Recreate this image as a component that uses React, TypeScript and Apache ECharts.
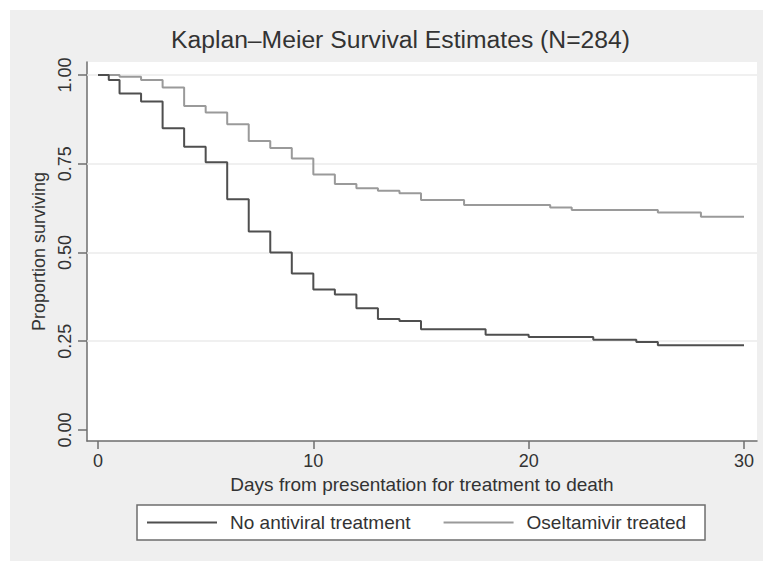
import React, { useEffect, useRef } from "react";
import * as echarts from "echarts";

const titleText = "Kaplan–Meier Survival Estimates (N=284)";
const xAxisTitle = "Days from presentation for treatment to death";
const yAxisTitle = "Proportion surviving";
const seriesNames = ["No antiviral treatment", "Oseltamivir treated"];

const xTicks = [0, 10, 20, 30];
const yTicks = [0, 0.25, 0.5, 0.75, 1];
const yGridValues = [0.25, 0.5, 0.75, 1];

const noAntiviralDays = [0, 0.5, 1, 2, 3, 4, 5, 6, 7, 8, 9, 10, 11, 12, 13, 14, 15, 18, 20, 23, 25, 26, 30];
const noAntiviralSurvival = [1, 0.986, 0.948, 0.925, 0.85, 0.798, 0.754, 0.65, 0.559, 0.5, 0.441, 0.396, 0.382, 0.343, 0.313, 0.307, 0.284, 0.268, 0.262, 0.254, 0.248, 0.239, 0.239];

const oseltamivirDays = [0, 1, 2, 3, 4, 5, 6, 7, 8, 9, 10, 11, 12, 13, 14, 15, 17, 21, 22, 26, 28, 30];
const oseltamivirSurvival = [1, 0.995, 0.986, 0.965, 0.913, 0.894, 0.861, 0.814, 0.794, 0.765, 0.72, 0.693, 0.681, 0.674, 0.667, 0.648, 0.634, 0.627, 0.62, 0.613, 0.601, 0.601];

const FONT = "'Liberation Sans', Arial, sans-serif";
const TEXT = "#333333";
const AXIS = "#6e6e6e";

export default function App() {
  const ref = useRef<HTMLDivElement>(null);
  useEffect(() => {
    if (!ref.current) return;
    const chart = echarts.init(ref.current, undefined, { renderer: "svg" });
    const darkData = noAntiviralDays.map((d, i) => [d, noAntiviralSurvival[i]]);
    const lightData = oseltamivirDays.map((d, i) => [d, oseltamivirSurvival[i]]);
    chart.setOption({
      animation: false,
      backgroundColor: "#ffffff",
      textStyle: { fontFamily: FONT },
      graphic: [
        {
          type: "rect",
          z: -10,
          silent: true,
          shape: { x: 10, y: 10, width: 753, height: 551 },
          style: { fill: "#efefef" },
        },
      ],
      title: {
        text: titleText,
        left: 171,
        top: 27,
        padding: 0,
        textStyle: { fontFamily: FONT, fontSize: 24.7, fontWeight: "normal", color: TEXT },
      },
      grid: {
        left: 87,
        right: 6,
        top: 62,
        bottom: 120,
        show: true,
        backgroundColor: "#ffffff",
        borderWidth: 0,
        containLabel: false,
      },
      legend: {
        left: 137,
        top: 505,
        orient: "horizontal",
        itemWidth: 70,
        itemHeight: 14,
        itemGap: 32,
        padding: [8, 19, 8, 9],
        backgroundColor: "#ffffff",
        borderColor: AXIS,
        borderWidth: 1.5,
        borderRadius: 0,
        itemStyle: { opacity: 0 },
        textStyle: { fontFamily: FONT, fontSize: 19, color: TEXT, padding: [0, 0, 0, 8] },
        data: seriesNames,
      },
      xAxis: {
        type: "value",
        min: -0.511,
        max: 30.604,
        name: xAxisTitle,
        nameLocation: "middle",
        nameGap: 30,
        nameTextStyle: { fontFamily: FONT, fontSize: 19, color: TEXT },
        axisLine: { show: true, onZero: false, lineStyle: { color: AXIS, width: 1.5 } },
        axisTick: { show: true, length: 8, lineStyle: { color: AXIS, width: 1.5 }, customValues: xTicks },
        axisLabel: { fontFamily: FONT, fontSize: 18, color: TEXT, margin: 11, customValues: xTicks },
        splitLine: { show: false },
      },
      yAxis: {
        type: "value",
        min: -0.031,
        max: 1.0366,
        name: yAxisTitle,
        nameLocation: "middle",
        nameGap: 36,
        nameTextStyle: { fontFamily: FONT, fontSize: 18, color: TEXT },
        axisLine: { show: true, onZero: false, lineStyle: { color: AXIS, width: 1.5 } },
        axisTick: { show: true, length: 9, lineStyle: { color: AXIS, width: 1.5 }, customValues: yTicks },
        axisLabel: {
          fontFamily: FONT,
          fontSize: 18,
          color: TEXT,
          rotate: 90,
          margin: 13,
          customValues: yTicks,
          formatter: (v: number) => v.toFixed(2),
        },
        splitLine: { show: false },
      },
      series: [
        {
          name: seriesNames[0],
          type: "line",
          step: "end",
          symbol: "none",
          data: darkData,
          lineStyle: { color: "#4f4f4f", width: 2 },
          itemStyle: { color: "#4f4f4f" },
          z: 3,
          markLine: {
            silent: true,
            symbol: "none",
            label: { show: false },
            lineStyle: { color: "#ebebeb", width: 1.5, type: "solid" },
            data: yGridValues.map((v) => ({ yAxis: v })),
            z: 1,
          },
        },
        {
          name: seriesNames[1],
          type: "line",
          step: "end",
          symbol: "none",
          data: lightData,
          lineStyle: { color: "#9a9a9a", width: 2 },
          itemStyle: { color: "#9a9a9a" },
          z: 2,
        },
      ],
    });
    return () => chart.dispose();
  }, []);
  return (
    <div
      ref={ref}
      style={{ position: "absolute", left: 0, top: 0, width: 763, height: 561 }}
    />
  );
}
